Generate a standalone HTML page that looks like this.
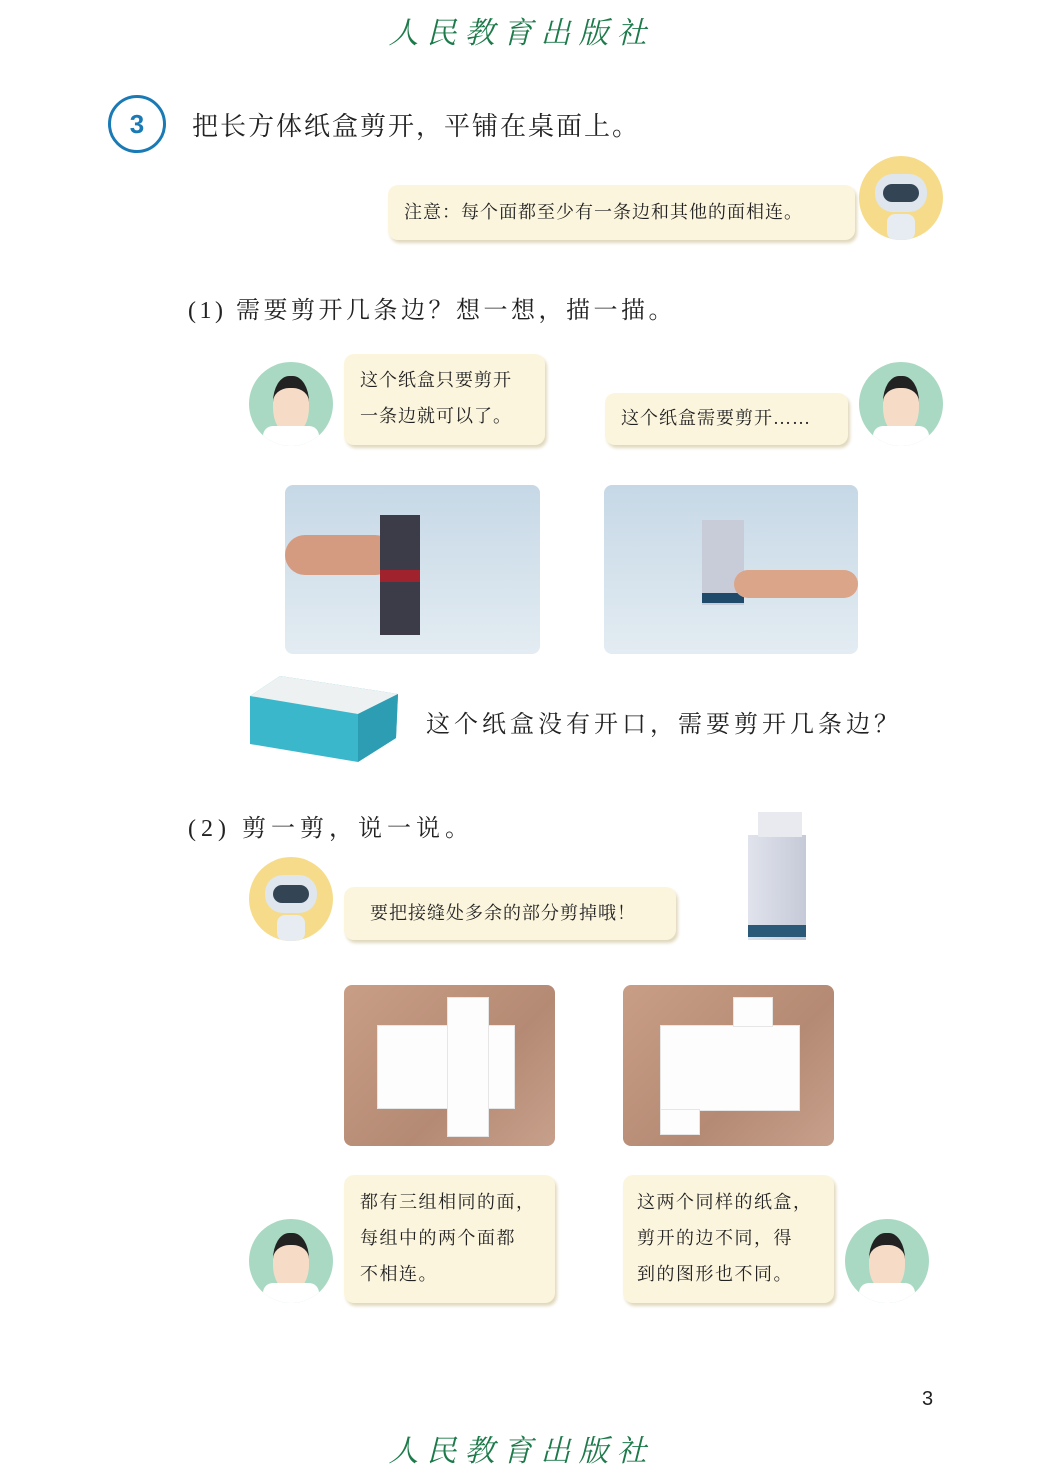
<!DOCTYPE html>
<html><head><meta charset="utf-8"><style>
body{margin:0;width:1043px;height:1474px;background:#fff;position:relative;overflow:hidden;font-family:"Liberation Serif","Noto Serif CJK SC",serif;color:#222}
.a{position:absolute}
.logo{font-family:"Noto Serif CJK SC",serif;color:#1d7a4a;font-size:30px;letter-spacing:8px;font-style:italic;width:1043px;text-align:center;left:0}
.bub{position:absolute;background:#fbf5de;border-radius:10px;box-shadow:2px 3px 3px #e0d8bc;font-size:18px;line-height:36px;padding:0 16px;box-sizing:border-box;letter-spacing:1px;white-space:nowrap}
.av{position:absolute;width:84px;height:84px;border-radius:50%;overflow:hidden}
.t{position:absolute;font-size:24px;letter-spacing:2px;white-space:nowrap}
.ph{position:absolute;border-radius:8px;overflow:hidden}
.wood{background:linear-gradient(135deg,#c99e86,#b58a74 60%,#c7a08b)}
.w{position:absolute;background:#fdfdfd;border:1px solid #e6e6e6;box-sizing:border-box}
</style></head><body>
<div class="a logo" style="top:8px">人民教育出版社</div>
<div class="a" style="left:108px;top:95px;width:52px;height:52px;border:3px solid #1a7ab5;border-radius:50%;text-align:center;font-family:'Liberation Sans',sans-serif;font-weight:bold;font-size:26px;line-height:52px;color:#1a7ab5">3</div>
<div class="t" style="left:192px;top:106px;font-size:26px">把长方体纸盒剪开，平铺在桌面上。</div>
<div class="bub" style="left:388px;top:185px;width:467px;height:55px;line-height:55px;">注意：每个面都至少有一条边和其他的面相连。</div>
<div class="av" style="left:859px;top:156px;background:#f6dc8a"><div class="a" style="left:16px;top:18px;width:52px;height:38px;border-radius:18px;background:#dfe6ee"></div><div class="a" style="left:24px;top:28px;width:36px;height:18px;border-radius:9px;background:#345"></div><div class="a" style="left:28px;top:58px;width:28px;height:26px;border-radius:8px;background:#e6ecf2"></div></div>
<div class="t" style="left:188px;top:290px;letter-spacing:3.5px">(1) 需要剪开几条边？想一想，描一描。</div>
<div class="av" style="left:249px;top:362px;background:#a9d9c3"><div class="a" style="left:24px;top:14px;width:36px;height:46px;border-radius:45%;background:#f6dcc6;border-top:12px solid #222"></div><div class="a" style="left:14px;top:64px;width:56px;height:30px;background:#fff;border-radius:10px"></div></div>
<div class="bub" style="left:344px;top:354px;width:201px;height:91px;padding-top:8px">这个纸盒只要剪开<br>一条边就可以了。</div>
<div class="bub" style="left:605px;top:393px;width:243px;height:52px;line-height:50px">这个纸盒需要剪开……</div>
<div class="av" style="left:859px;top:362px;background:#a9d9c3"><div class="a" style="left:24px;top:14px;width:36px;height:46px;border-radius:45%;background:#f6dcc6;border-top:12px solid #222"></div><div class="a" style="left:14px;top:64px;width:56px;height:30px;background:#fff;border-radius:10px"></div></div>
<div class="ph" style="left:285px;top:485px;width:255px;height:169px;background:linear-gradient(180deg,#c6d8e6,#e3ecf2)"><div class="a" style="left:0;top:50px;width:110px;height:40px;background:#d49b80;border-radius:20px"></div><div class="a" style="left:95px;top:30px;width:40px;height:120px;background:#3b3c48"></div><div class="a" style="left:95px;top:85px;width:40px;height:12px;background:#a0222c"></div></div>
<div class="ph" style="left:604px;top:485px;width:254px;height:169px;background:linear-gradient(180deg,#c6d8e6,#e3ecf2)"><div class="a" style="left:98px;top:35px;width:42px;height:85px;background:#c8ccd8"></div><div class="a" style="left:98px;top:108px;width:42px;height:10px;background:#1f4a6a"></div><div class="a" style="left:130px;top:85px;width:124px;height:28px;background:#dba58a;border-radius:14px"></div></div>
<svg class="a" style="left:248px;top:674px" width="152" height="92"><polygon points="2,22 32,2 150,20 148,64 110,88 2,70" fill="#3ab7cb"/><polygon points="2,22 32,2 150,20 110,40" fill="#eef1f1"/><polygon points="110,40 150,20 148,64 110,88" fill="#2c9db2"/></svg>
<div class="t" style="left:426px;top:704px;letter-spacing:4px">这个纸盒没有开口，需要剪开几条边？</div>
<div class="t" style="left:188px;top:808px;letter-spacing:5px">(2) 剪一剪，说一说。</div>
<div class="av" style="left:249px;top:857px;background:#f6dc8a"><div class="a" style="left:16px;top:18px;width:52px;height:38px;border-radius:18px;background:#dfe6ee"></div><div class="a" style="left:24px;top:28px;width:36px;height:18px;border-radius:9px;background:#345"></div><div class="a" style="left:28px;top:58px;width:28px;height:26px;border-radius:8px;background:#e6ecf2"></div></div>
<div class="bub" style="left:344px;top:887px;width:332px;height:53px;line-height:52px;padding-left:26px">要把接缝处多余的部分剪掉哦！</div>
<div class="a" style="left:748px;top:835px;width:58px;height:105px;background:linear-gradient(90deg,#e0e3ec,#c6cad8)"></div>
<div class="a" style="left:748px;top:925px;width:58px;height:12px;background:#2a5a78"></div>
<div class="a" style="left:758px;top:812px;width:44px;height:25px;background:#e8eaf0"></div>
<div class="ph wood" style="left:344px;top:985px;width:211px;height:161px"><div class="w" style="left:33px;top:40px;width:138px;height:84px"></div><div class="w" style="left:103px;top:12px;width:42px;height:140px"></div></div>
<div class="ph wood" style="left:623px;top:985px;width:211px;height:161px"><div class="w" style="left:37px;top:40px;width:140px;height:86px"></div><div class="w" style="left:110px;top:12px;width:40px;height:30px"></div><div class="w" style="left:37px;top:124px;width:40px;height:26px"></div></div>
<div class="av" style="left:249px;top:1219px;background:#a9d9c3"><div class="a" style="left:24px;top:14px;width:36px;height:46px;border-radius:45%;background:#f6dcc6;border-top:12px solid #222"></div><div class="a" style="left:14px;top:64px;width:56px;height:30px;background:#fff;border-radius:10px"></div></div>
<div class="bub" style="left:344px;top:1175px;width:211px;height:128px;padding:9px 0 0 16px;letter-spacing:1.5px">都有三组相同的面，<br>每组中的两个面都<br>不相连。</div>
<div class="bub" style="left:623px;top:1175px;width:211px;height:128px;padding:9px 0 0 14px;letter-spacing:1.5px">这两个同样的纸盒，<br>剪开的边不同，得<br>到的图形也不同。</div>
<div class="av" style="left:845px;top:1219px;background:#a9d9c3"><div class="a" style="left:24px;top:14px;width:36px;height:46px;border-radius:45%;background:#f6dcc6;border-top:12px solid #222"></div><div class="a" style="left:14px;top:64px;width:56px;height:30px;background:#fff;border-radius:10px"></div></div>
<div class="a" style="left:922px;top:1388px;font:20px 'Liberation Sans',sans-serif">3</div>
<div class="a logo" style="top:1426px">人民教育出版社</div>
</body></html>
